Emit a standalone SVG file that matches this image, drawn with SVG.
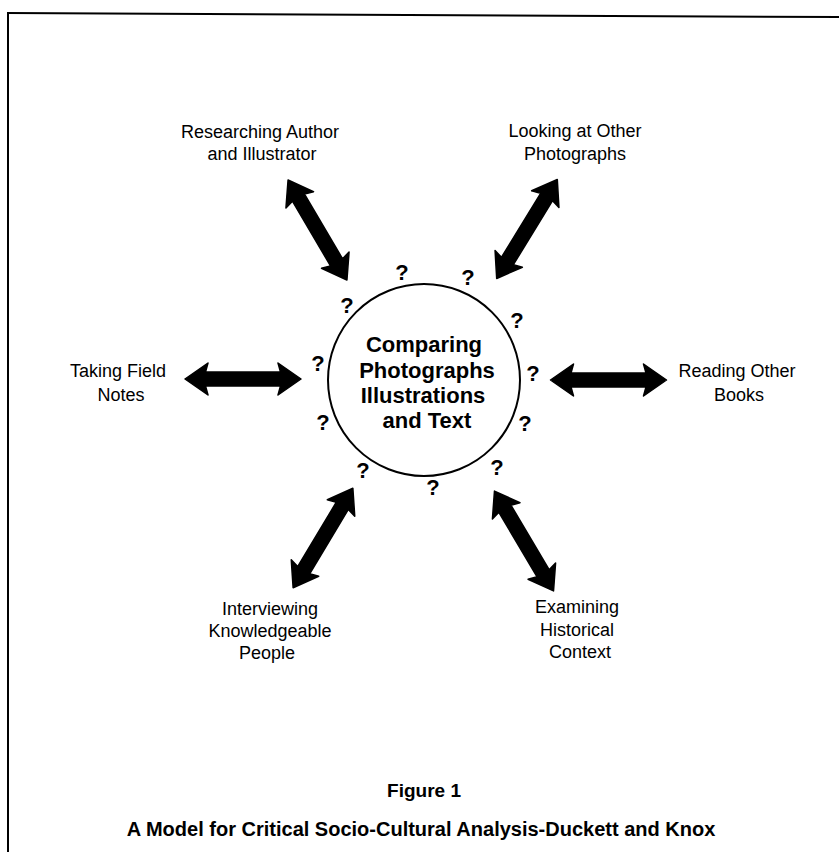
<svg xmlns="http://www.w3.org/2000/svg" width="839" height="852" viewBox="0 0 839 852">
<style>
.lbl{font-family:"Liberation Sans",Arial,sans-serif;font-size:18px;fill:#000;text-anchor:middle}
.ctr{font-family:"Liberation Sans",Arial,sans-serif;font-size:22px;font-weight:bold;fill:#000;text-anchor:middle}
.q{font-family:"Liberation Sans",Arial,sans-serif;font-size:22px;font-weight:bold;fill:#000;text-anchor:middle}
.cap{font-family:"Liberation Sans",Arial,sans-serif;font-weight:bold;fill:#000;text-anchor:middle}
.arr{fill:#000}
</style>
<defs>
<polygon id="dbl" points="-58,0 -35,-16 -37.5,-7 37.5,-7 35,-16 58,0 35,16 37.5,7 -37.5,7 -35,16" stroke="#000" stroke-width="1.5" stroke-linejoin="round"/>
</defs>
<rect width="839" height="852" fill="#fff"/>
<g id="frame" stroke="#000" stroke-width="2" fill="none">
<line x1="7" y1="13" x2="839" y2="17"/>
<line x1="8" y1="12" x2="8" y2="852"/>
</g>
<g id="connectors" class="arr">
<use href="#dbl" transform="translate(317.5,230) rotate(59.5)"/>
<use href="#dbl" transform="translate(527,229) rotate(-58.5)"/>
<use href="#dbl" transform="translate(243,379)"/>
<use href="#dbl" transform="translate(608.5,380)"/>
<use href="#dbl" transform="translate(323,538) rotate(-59)"/>
<use href="#dbl" transform="translate(524,541) rotate(59.4)"/>
</g>
<g id="center">
<circle cx="424" cy="380" r="96" fill="none" stroke="#000" stroke-width="2"/>
<text class="ctr" x="424" y="352">Comparing</text>
<text class="ctr" x="427" y="378">Photographs</text>
<text class="ctr" x="423" y="403">Illustrations</text>
<text class="ctr" x="427" y="428">and Text</text>
</g>
<g id="questions">
<text class="q" x="402" y="280">?</text>
<text class="q" x="468" y="285">?</text>
<text class="q" x="347" y="313">?</text>
<text class="q" x="517" y="328">?</text>
<text class="q" x="318" y="371">?</text>
<text class="q" x="533" y="381">?</text>
<text class="q" x="323" y="430">?</text>
<text class="q" x="525" y="431">?</text>
<text class="q" x="363" y="478">?</text>
<text class="q" x="497" y="475">?</text>
<text class="q" x="433" y="495">?</text>
</g>
<g id="researching">
<text class="lbl" x="260" y="138">Researching Author</text>
<text class="lbl" x="262" y="160">and Illustrator</text>
</g>
<g id="looking">
<text class="lbl" x="575" y="137">Looking at Other</text>
<text class="lbl" x="575" y="160">Photographs</text>
</g>
<g id="taking">
<text class="lbl" x="118" y="377">Taking Field</text>
<text class="lbl" x="121" y="401">Notes</text>
</g>
<g id="reading">
<text class="lbl" x="737" y="377">Reading Other</text>
<text class="lbl" x="739" y="401">Books</text>
</g>
<g id="interviewing">
<text class="lbl" x="270" y="615">Interviewing</text>
<text class="lbl" x="270" y="637">Knowledgeable</text>
<text class="lbl" x="267" y="659">People</text>
</g>
<g id="examining">
<text class="lbl" x="577" y="613">Examining</text>
<text class="lbl" x="577" y="636">Historical</text>
<text class="lbl" x="580" y="658">Context</text>
</g>
<g id="caption">
<text class="cap" x="424" y="797" font-size="19">Figure 1</text>
<text class="cap" x="421" y="836" font-size="20">A Model for Critical Socio-Cultural Analysis-Duckett and Knox</text>
</g>
</svg>
